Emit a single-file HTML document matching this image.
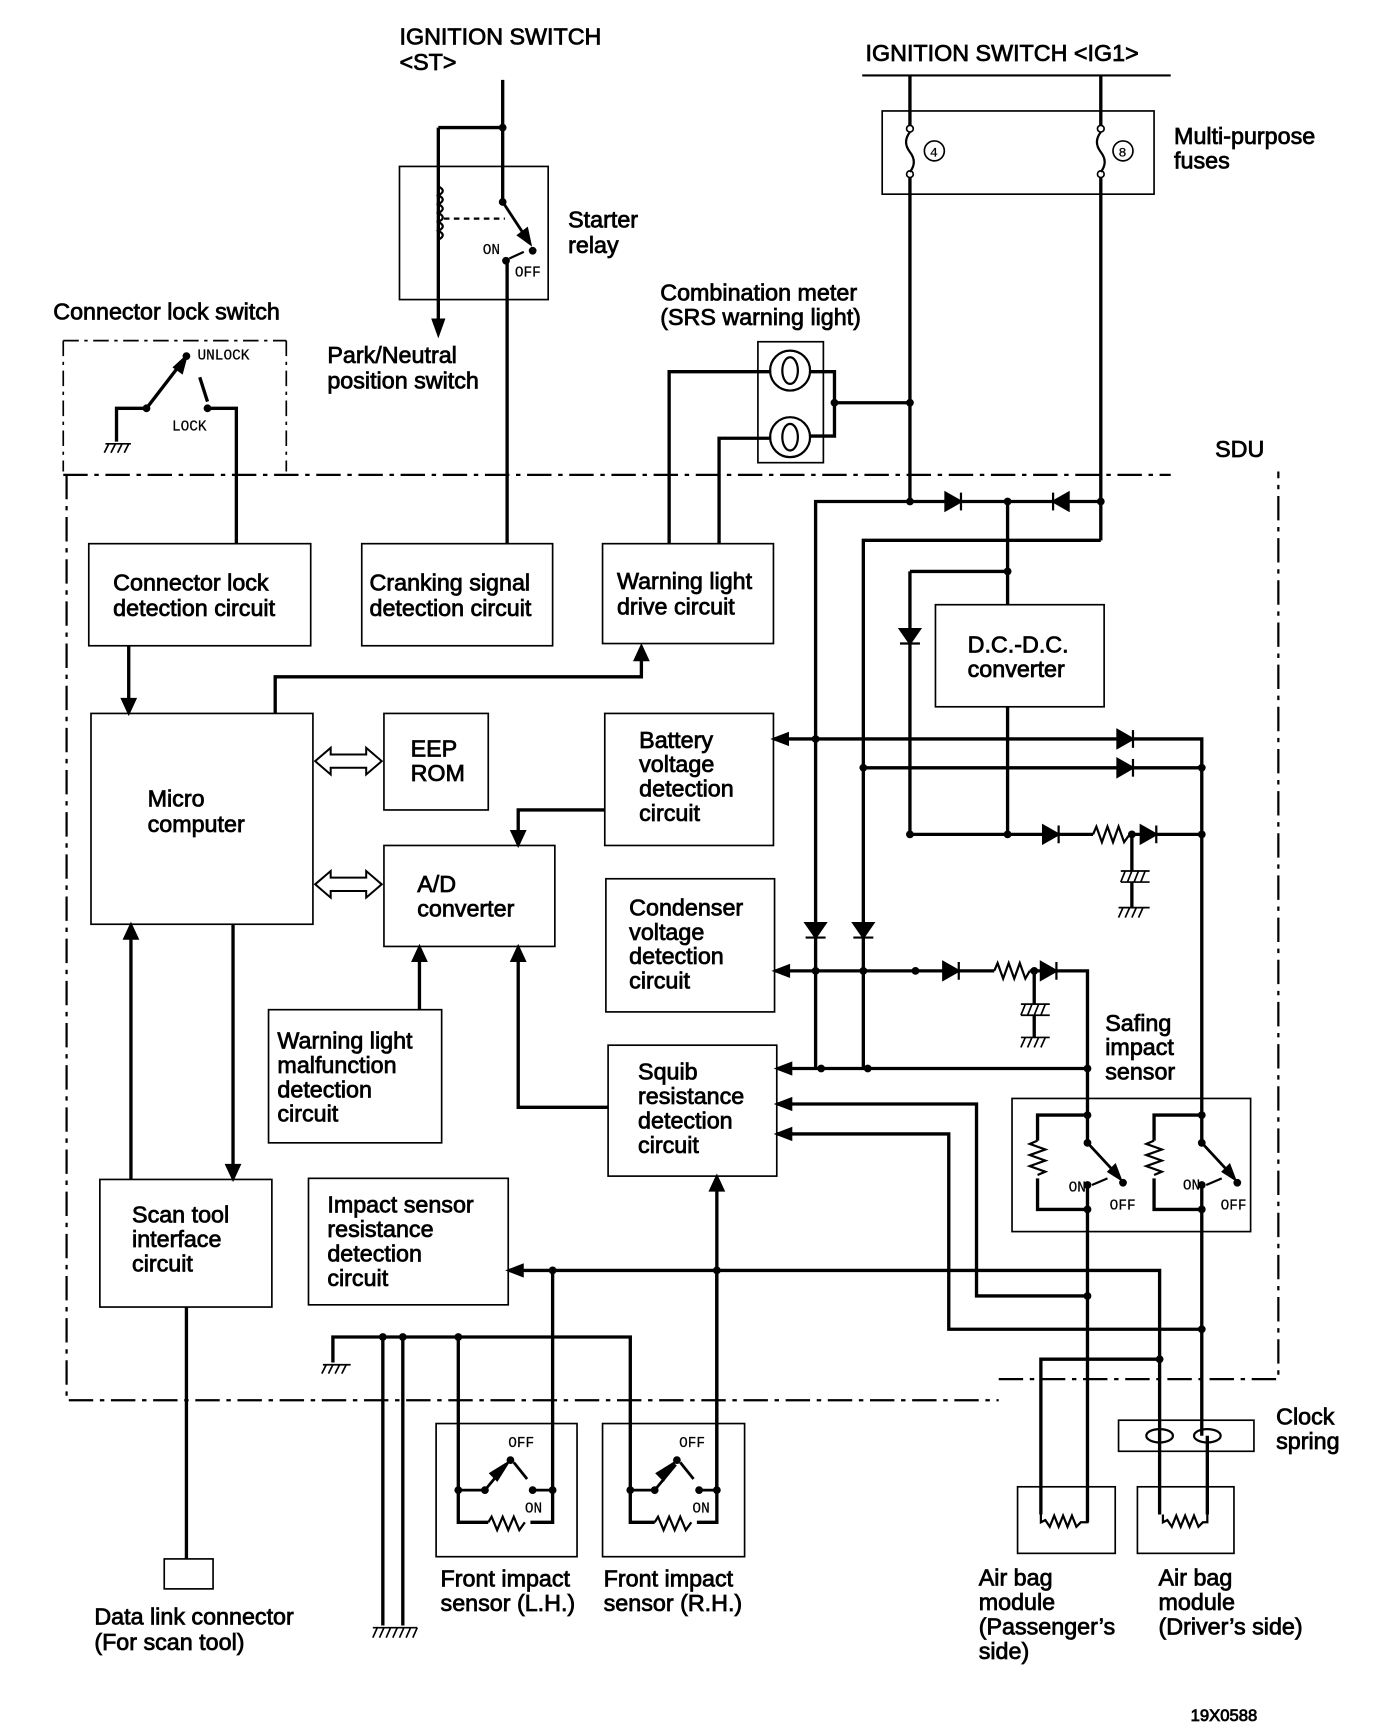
<!DOCTYPE html>
<html><head><meta charset="utf-8"><style>
html,body{margin:0;padding:0;background:#fff}
svg{display:block}
text{font-family:"Liberation Sans",Arial,sans-serif;font-size:21px;fill:#000;stroke:#000;stroke-width:0.7}
.m{font-family:"Liberation Mono",monospace;font-size:13px;stroke-width:0.2}
</style></head><body>
<svg width="1376" height="1732" viewBox="0 0 1240 1561" preserveAspectRatio="none" xmlns="http://www.w3.org/2000/svg">
<g fill="none" stroke="#000" stroke-width="3" stroke-linejoin="miter">
<path d="M777,68H1055" stroke-width="2"/>
<path d="M820,68V452M992,68V487"/>
<rect x="795" y="100" width="245" height="75" stroke-width="1.5"/>
<path d="M453,72V182M395,115H453V115M395,115V290M457,235V490"/>
<path d="M395,168q8,4 0,8q8,4 0,8q8,4 0,8q8,4 0,8q8,4 0,8q8,4 0,8" stroke-width="2"/>
<path d="M400,197H455" stroke-dasharray="5,4" stroke-width="2"/>
<path d="M453,182L474,214" stroke-width="2.5"/>
<path d="M459,233L472,227" stroke-width="2"/>
<rect x="360" y="150" width="134" height="120" stroke-width="1.5"/>
<path d="M57,307H258M57,307V425M258,307V425" stroke-width="1.5" stroke-dasharray="14,5,3,5"/>
<path d="M105,398V368H132M132,368L162,329M180,340L187,362M187,368H213V490"/>
<path d="M57,428H1055M60,428V1262H900M900,1243H1152V425" stroke-width="2" stroke-dasharray="22,6,4,6"/>
<rect x="683" y="308" width="59" height="109" stroke-width="1.5"/>
<path d="M603,490V335H695M648,490V395H695M729,335H752V393H729M752,363H820"/>
<g stroke-width="1.5">
<rect x="80" y="490" width="200" height="92"/>
<rect x="326" y="490" width="172" height="92"/>
<rect x="543" y="490" width="154" height="90"/>
<rect x="82" y="643" width="200" height="190"/>
<rect x="346" y="643" width="94" height="87"/>
<rect x="346" y="762" width="154" height="91"/>
<rect x="545" y="643" width="152" height="119"/>
<rect x="546" y="792" width="152" height="120"/>
<rect x="548" y="942" width="152" height="118"/>
<rect x="242" y="910" width="156" height="120"/>
<rect x="90" y="1063" width="155" height="115"/>
<rect x="278" y="1062" width="180" height="114"/>
<rect x="843" y="545" width="152" height="92"/>
<rect x="912" y="990" width="215" height="120"/>
<rect x="1008" y="1280" width="122" height="28"/>
<rect x="917" y="1340" width="88" height="60"/>
<rect x="1025" y="1340" width="87" height="60"/>
<rect x="393" y="1283" width="127" height="120"/>
<rect x="543" y="1283" width="128" height="120"/>
<rect x="148" y="1405" width="44" height="27"/>
</g>
<path d="M735,963V452H992M778,963V487H992M908,452V545M820,515H908M820,515V752M908,637V752"/>
<path d="M697,666H1083V1030M778,692H1083"/>
<path d="M820,752H985M1018,752H1083M1020,752V785M1020,795V818"/>
<path d="M985,752l3,-7l5,14l5,-14l5,14l5,-14l5,14l5,-7" stroke-width="2"/>
<path d="M698,875H896M928,875H980V1030M932,875V905M932,915V935"/>
<path d="M896,875l3,-7l5,14l5,-14l5,14l5,-14l5,14l4,-7" stroke-width="2"/>
<path d="M700,963H980M700,995H880V1168H980M700,1022H855V1198H1083"/>
<path d="M980,1005H935V1028M935,1062V1090H980M980,1068V1372M1083,1005H1040V1028M1040,1062V1090H1083M1083,1068V1294"/>
<path d="M935,1028l-7,3l14,5l-14,5l14,5l-14,5l14,5l-7,3M1040,1028l-7,3l14,5l-14,5l14,5l-14,5l14,5l-7,3" stroke-width="2"/>
<path d="M980,1030L1006,1058M1083,1030L1109,1058" stroke-width="2.5"/>
<path d="M984,1068L998,1062M1087,1068L1101,1062" stroke-width="2"/>
<path d="M458,1145H1045V1294M1045,1225H938V1365M1045,1294V1365M1088,1294V1365"/>
<path d="M938,1365V1372l4,-2l4,6l4,-10l4,10l4,-10l4,10l4,-10l4,10l4,-4H980V1365" stroke-width="2"/>
<path d="M1048,1365V1372l4,-2l4,6l4,-10l4,10l4,-10l4,10l4,-10l4,10l4,-4H1088V1365" stroke-width="2"/>
<ellipse cx="1045" cy="1294" rx="12" ry="6" stroke-width="2"/>
<ellipse cx="1088" cy="1294" rx="12" ry="6" stroke-width="2"/>
<path d="M116,582V632M248,643V610H578V594M545,730H467V750M378,910V865M548,998H467V865M118,1063V845M210,833V1052M168,1178V1405M646,1345V1072"/>
<path d="M300,1228V1205H568V1343M345,1205V1465M363,1205V1465M413,1205V1372H440M478,1372H498V1145M568,1343V1372H590M628,1372H646V1145"/>
<path d="M440,1372l3,-5l5,12l5,-12l5,12l5,-12l5,12l5,-7" stroke-width="2"/>
<path d="M590,1372l3,-5l5,12l5,-12l5,12l5,-12l5,12l5,-7" stroke-width="2"/>
<path d="M413,1343H437L456,1320M463,1318L475,1333M480,1343H498M568,1343H590L609,1320M613,1318L625,1333M630,1343H646" stroke-width="2.5"/>
<g stroke-width="1.5">
<path d="M95,400H118M98,400l-4,8M104,400l-4,8M110,400l-4,8M116,400l-4,8"/>
<path d="M291,1230H316M294,1230l-4,8M300,1230l-4,8M306,1230l-4,8M312,1230l-4,8"/>
<path d="M336,1467H376M340,1467l-4,9M346,1467l-4,9M352,1467l-4,9M358,1467l-4,9M364,1467l-4,9M370,1467l-4,9M376,1467l-4,9"/>
<path d="M1010,785H1036M1010,795H1036M1014,785l-4,10M1020,785l-4,10M1026,785l-4,10M1032,785l-4,10M1008,818H1036M1012,818l-4,9M1018,818l-4,9M1024,818l-4,9M1030,818l-4,9"/>
<path d="M920,905H946M920,915H946M924,905l-4,10M930,905l-4,10M936,905l-4,10M942,905l-4,10M920,935H946M924,935l-4,9M930,935l-4,9M936,935l-4,9M942,935l-4,9"/>
</g>
<g stroke-width="1.8" fill="#fff">
<path d="M284,686l14,-12v6h32v-6l14,12l-14,12v-6h-32v6z"/>
<path d="M284,797l14,-12v6h32v-6l14,12l-14,12v-6h-32v6z"/>
</g>
<g stroke-width="2">
<circle cx="712" cy="334" r="18"/><ellipse cx="712" cy="334" rx="7" ry="12"/>
<circle cx="712" cy="394" r="18"/><ellipse cx="712" cy="394" rx="7" ry="12"/>
</g>
<g stroke-width="1.5">
<circle cx="842" cy="136" r="9"/><circle cx="1012" cy="136" r="9"/>
</g>
</g>
<g fill="#fff" stroke="#000" stroke-width="1.5">
<rect x="816" y="117" width="8" height="38" stroke="none"/>
<rect x="988" y="117" width="8" height="38" stroke="none"/>
<circle cx="820" cy="116" r="3"/><circle cx="820" cy="157" r="3"/>
<circle cx="992" cy="116" r="3"/><circle cx="992" cy="157" r="3"/>
</g>
<path d="M820,119q-7,9 0,18q7,9 0,18M992,119q-7,9 0,18q7,9 0,18" fill="none" stroke="#000" stroke-width="2"/>
<g fill="#000" stroke="#000" stroke-width="2">
<polygon points="395,302 390,288 400,288"/>
<polygon points="478,220 467,212 475,206"/>
<polygon points="168,321 164,336 157,331"/>
<polygon points="116,643 110,630 122,630"/>
<polygon points="578,582 572,595 584,595"/>
<polygon points="467,762 461,749 473,749"/>
<polygon points="378,853 372,866 384,866"/>
<polygon points="467,853 461,866 473,866"/>
<polygon points="118,833 112,846 124,846"/>
<polygon points="210,1063 204,1050 216,1050"/>
<polygon points="646,1060 640,1073 652,1073"/>
<polygon points="458,1145 471,1140 471,1150"/>
<polygon points="697,666 710,661 710,671"/>
<polygon points="698,875 711,870 711,880"/>
<polygon points="700,963 713,958 713,968"/>
<polygon points="700,995 713,990 713,1000"/>
<polygon points="700,1022 713,1017 713,1027"/>
<polygon points="1010,1063 999,1056 1005,1050"/>
<polygon points="1113,1063 1102,1056 1108,1050"/>
<polygon points="458,1318 448,1334 442,1328"/>
<polygon points="608,1318 598,1334 592,1328"/>
<polygon points="852,444 852,460 866,452"/><path d="M866,444V460"/>
<polygon points="963,444 963,460 949,452"/><path d="M949,444V460"/>
<polygon points="811,567 829,567 820,580"/><path d="M811,580H829"/>
<polygon points="1007,658 1007,674 1021,666"/><path d="M1021,658V674"/>
<polygon points="1007,684 1007,700 1021,692"/><path d="M1021,684V700"/>
<polygon points="940,744 940,760 954,752"/><path d="M954,744V760"/>
<polygon points="1028,744 1028,760 1042,752"/><path d="M1042,744V760"/>
<polygon points="850,867 850,883 864,875"/><path d="M864,867V883"/>
<polygon points="938,867 938,883 952,875"/><path d="M952,867V883"/>
<polygon points="726,832 744,832 735,845"/><path d="M726,845H744"/>
<polygon points="769,832 787,832 778,845"/><path d="M769,845H787"/>
</g>
<g fill="#000">
<circle cx="453" cy="115" r="3.5"/><circle cx="453" cy="182" r="3.5"/><circle cx="480" cy="226" r="3.5"/><circle cx="456" cy="235" r="3.5"/>
<circle cx="132" cy="368" r="3.5"/><circle cx="168" cy="321" r="3.5"/><circle cx="187" cy="368" r="3.5"/>
<circle cx="752" cy="363" r="3.5"/><circle cx="820" cy="363" r="3.5"/>
<circle cx="820" cy="452" r="3.5"/><circle cx="908" cy="452" r="3.5"/><circle cx="992" cy="452" r="3.5"/>
<circle cx="908" cy="515" r="3.5"/>
<circle cx="735" cy="666" r="3.5"/><circle cx="1083" cy="692" r="3.5"/><circle cx="778" cy="692" r="3.5"/>
<circle cx="820" cy="752" r="3.5"/><circle cx="908" cy="752" r="3.5"/><circle cx="1020" cy="752" r="3.5"/><circle cx="1083" cy="752" r="3.5"/>
<circle cx="735" cy="875" r="3.5"/><circle cx="778" cy="875" r="3.5"/><circle cx="825" cy="875" r="3.5"/><circle cx="932" cy="875" r="3.5"/>
<circle cx="740" cy="963" r="3.5"/><circle cx="782" cy="963" r="3.5"/><circle cx="980" cy="963" r="3.5"/>
<circle cx="980" cy="1005" r="3.5"/><circle cx="980" cy="1030" r="3.5"/><circle cx="1012" cy="1066" r="3.5"/><circle cx="980" cy="1068" r="3.5"/><circle cx="980" cy="1090" r="3.5"/>
<circle cx="1083" cy="1005" r="3.5"/><circle cx="1083" cy="1030" r="3.5"/><circle cx="1115" cy="1066" r="3.5"/><circle cx="1083" cy="1068" r="3.5"/><circle cx="1083" cy="1090" r="3.5"/>
<circle cx="980" cy="1168" r="3.5"/><circle cx="1083" cy="1198" r="3.5"/><circle cx="1045" cy="1225" r="3.5"/>
<circle cx="498" cy="1145" r="3.5"/><circle cx="646" cy="1145" r="3.5"/>
<circle cx="345" cy="1205" r="3.5"/><circle cx="363" cy="1205" r="3.5"/><circle cx="413" cy="1205" r="3.5"/>
<circle cx="413" cy="1343" r="3.5"/><circle cx="437" cy="1343" r="3.5"/><circle cx="460" cy="1316" r="3.5"/><circle cx="480" cy="1343" r="3.5"/><circle cx="498" cy="1343" r="3.5"/>
<circle cx="568" cy="1343" r="3.5"/><circle cx="590" cy="1343" r="3.5"/><circle cx="610" cy="1316" r="3.5"/><circle cx="630" cy="1343" r="3.5"/><circle cx="646" cy="1343" r="3.5"/>
</g>
<text x="360" y="40">IGNITION SWITCH</text>
<text x="360" y="63">&lt;ST&gt;</text>
<text x="780" y="55">IGNITION SWITCH &lt;IG1&gt;</text>
<text x="1058" y="130">Multi-purpose</text>
<text x="1058" y="152">fuses</text>
<text x="838" y="141" class="m" style="font-size:12px">4</text>
<text x="1008" y="141" class="m" style="font-size:12px">8</text>
<text x="512" y="205">Starter</text>
<text x="512" y="228">relay</text>
<text x="435" y="229" class="m">ON</text>
<text x="464" y="249" class="m">OFF</text>
<text x="48" y="288">Connector lock switch</text>
<text x="178" y="324" class="m">UNLOCK</text>
<text x="155" y="388" class="m">LOCK</text>
<text x="295" y="327">Park/Neutral</text>
<text x="295" y="350">position switch</text>
<text x="595" y="271">Combination meter</text>
<text x="595" y="293">(SRS warning light)</text>
<text x="1095" y="412">SDU</text>
<text x="102" y="532">Connector lock</text>
<text x="102" y="555">detection circuit</text>
<text x="333" y="532">Cranking signal</text>
<text x="333" y="555">detection circuit</text>
<text x="556" y="531">Warning light</text>
<text x="556" y="554">drive circuit</text>
<text x="872" y="588">D.C.-D.C.</text>
<text x="872" y="610">converter</text>
<text x="133" y="727">Micro</text>
<text x="133" y="750">computer</text>
<text x="370" y="682">EEP</text>
<text x="370" y="704">ROM</text>
<text x="376" y="804">A/D</text>
<text x="376" y="826">converter</text>
<text x="576" y="674">Battery</text>
<text x="576" y="696">voltage</text>
<text x="576" y="718">detection</text>
<text x="576" y="740">circuit</text>
<text x="567" y="825">Condenser</text>
<text x="567" y="847">voltage</text>
<text x="567" y="869">detection</text>
<text x="567" y="891">circuit</text>
<text x="575" y="973">Squib</text>
<text x="575" y="995">resistance</text>
<text x="575" y="1017">detection</text>
<text x="575" y="1039">circuit</text>
<text x="250" y="945">Warning light</text>
<text x="250" y="967">malfunction</text>
<text x="250" y="989">detection</text>
<text x="250" y="1011">circuit</text>
<text x="996" y="929">Safing</text>
<text x="996" y="951">impact</text>
<text x="996" y="973">sensor</text>
<text x="963" y="1074" class="m">ON</text>
<text x="1000" y="1090" class="m">OFF</text>
<text x="1066" y="1072" class="m">ON</text>
<text x="1100" y="1090" class="m">OFF</text>
<text x="119" y="1102">Scan tool</text>
<text x="119" y="1124">interface</text>
<text x="119" y="1146">circuit</text>
<text x="295" y="1093">Impact sensor</text>
<text x="295" y="1115">resistance</text>
<text x="295" y="1137">detection</text>
<text x="295" y="1159">circuit</text>
<text x="458" y="1304" class="m">OFF</text>
<text x="473" y="1363" class="m">ON</text>
<text x="612" y="1304" class="m">OFF</text>
<text x="624" y="1363" class="m">ON</text>
<text x="1150" y="1284">Clock</text>
<text x="1150" y="1306">spring</text>
<text x="397" y="1430">Front impact</text>
<text x="397" y="1452">sensor (L.H.)</text>
<text x="544" y="1430">Front impact</text>
<text x="544" y="1452">sensor (R.H.)</text>
<text x="85" y="1464">Data link connector</text>
<text x="85" y="1487">(For scan tool)</text>
<text x="882" y="1429">Air bag</text>
<text x="882" y="1451">module</text>
<text x="882" y="1473">(Passenger’s</text>
<text x="882" y="1495">side)</text>
<text x="1044" y="1429">Air bag</text>
<text x="1044" y="1451">module</text>
<text x="1044" y="1473">(Driver’s side)</text>
<text x="1073" y="1551" style="font-size:15px">19X0588</text>
</svg>
</body></html>
